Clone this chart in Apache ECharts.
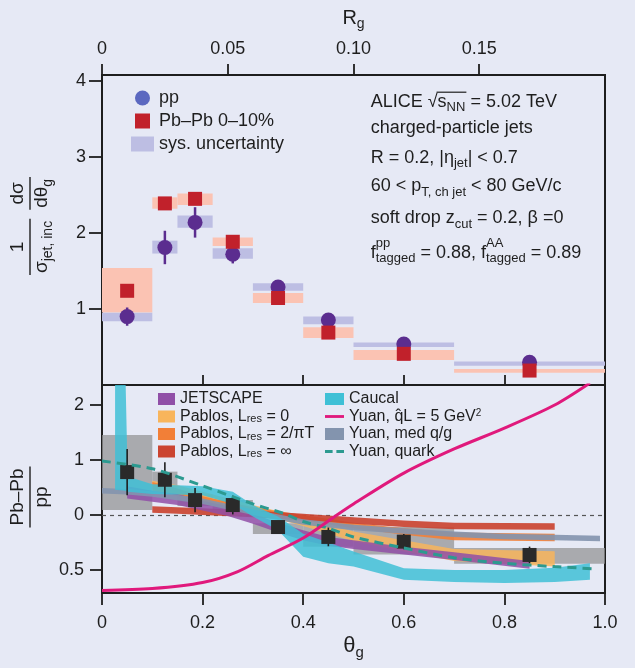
<!DOCTYPE html>
<html>
<head>
<meta charset="utf-8">
<script src="https://cdn.jsdelivr.net/npm/echarts@6.0.0/dist/echarts.min.js"></script>
<style>
html,body{margin:0;padding:0;background:#e6e9f5;}
#c{width:635px;height:668px;}
</style>
</head>
<body>
<div id="c"></div>
<script>
// ---------------- data ----------------
const binLo     = [0.00, 0.10, 0.15, 0.22, 0.30, 0.40, 0.50, 0.70];
const binHi     = [0.10, 0.15, 0.22, 0.30, 0.40, 0.50, 0.70, 1.00];
const binCenter = [0.05, 0.125, 0.185, 0.26, 0.35, 0.45, 0.60, 0.85];

const ppValue = [0.90, 1.81, 2.14, 1.72, 1.29, 0.855, 0.54, 0.30];
const ppStat  = [0.12, 0.22, 0.20, 0.12, 0.045, 0.035, 0.025, 0.02];
const ppSysLo = [0.84, 1.73, 2.07, 1.66, 1.24, 0.80, 0.50, 0.255];
const ppSysHi = [0.95, 1.90, 2.23, 1.80, 1.34, 0.90, 0.56, 0.31];

const pbValue = [1.24, 2.39, 2.45, 1.885, 1.145, 0.69, 0.41, 0.19];
const pbSysLo = [0.955, 2.32, 2.37, 1.83, 1.08, 0.62, 0.33, 0.16];
const pbSysHi = [1.54, 2.47, 2.52, 1.94, 1.21, 0.76, 0.46, 0.21];

const ratioValue = [1.39, 1.32, 1.135, 1.09, 0.89, 0.80, 0.757, 0.636];
const ratioStat  = [0.21, 0.16, 0.11, 0.085, 0.04, 0.085, 0.07, 0.076];
const ratioSysLo = [1.045, 1.243, 1.082, 1.04, 0.827, 0.71, 0.64, 0.555];
const ratioSysHi = [1.727, 1.394, 1.188, 1.136, 0.925, 0.93, 0.89, 0.70];

const jetscapeX  = [0.05, 0.10, 0.15, 0.20, 0.25, 0.30, 0.35, 0.40, 0.45, 0.50, 0.60, 0.70, 0.85];
const jetscapeLo = [1.15, 1.12, 1.09, 1.04, 0.99, 0.92, 0.84, 0.77, 0.72, 0.69, 0.64, 0.59, 0.51];
const jetscapeHi = [1.26, 1.22, 1.19, 1.13, 1.08, 1.01, 0.93, 0.86, 0.80, 0.77, 0.71, 0.66, 0.58];

const pablosX     = [0.10, 0.15, 0.20, 0.30, 0.40, 0.50, 0.60, 0.70, 0.90];
const pablos0Lo   = [1.23, 1.19, 1.13, 1.02, 0.90, 0.76, 0.67, 0.58, 0.53];
const pablos0Hi   = [1.31, 1.27, 1.21, 1.09, 0.98, 0.85, 0.77, 0.69, 0.67];
const pablos2Lo   = [1.22, 1.17, 1.10, 1.01, 0.95, 0.88, 0.82, 0.77, 0.76];
const pablos2Hi   = [1.30, 1.24, 1.17, 1.07, 1.00, 0.93, 0.88, 0.84, 0.83];
const pablosInfLo = [1.02, 1.01, 1.00, 0.98, 0.95, 0.92, 0.89, 0.87, 0.865];
const pablosInfHi = [1.08, 1.07, 1.06, 1.04, 1.01, 0.98, 0.95, 0.93, 0.925];

const caucalX  = [0.026, 0.046, 0.051, 0.10, 0.20, 0.26, 0.30, 0.35, 0.40, 0.45, 0.50, 0.60, 0.70, 0.80, 0.90, 0.97];
const caucalLo = [1.23, 1.22, 1.21, 1.19, 1.18, 1.10, 0.985, 0.86, 0.62, 0.56, 0.53, 0.41, 0.39, 0.38, 0.39, 0.41];
const caucalHi = [3.00, 2.40, 1.35, 1.28, 1.26, 1.21, 1.09, 0.985, 0.83, 0.75, 0.667, 0.515, 0.50, 0.50, 0.52, 0.56];

const yuanMedX  = [0.00, 0.05, 0.10, 0.20, 0.30, 0.40, 0.50, 0.60, 0.70, 0.80, 0.90, 0.99];
const yuanMedLo = [1.195, 1.185, 1.165, 1.10, 1.00, 0.91, 0.86, 0.83, 0.80, 0.78, 0.77, 0.76];
const yuanMedHi = [1.245, 1.235, 1.215, 1.15, 1.05, 0.96, 0.91, 0.88, 0.85, 0.83, 0.82, 0.81];

const yuanQuarkX = [0.00, 0.10, 0.20, 0.30, 0.36, 0.40, 0.45, 0.50, 0.60, 0.70, 0.80, 0.90, 0.98];
const yuanQuarkY = [1.49, 1.42, 1.265, 1.10, 1.015, 0.94, 0.88, 0.80, 0.70, 0.61, 0.56, 0.53, 0.51];

const yuanQhatX = [0.00, 0.10, 0.20, 0.27, 0.33, 0.40, 0.467, 0.50, 0.60, 0.70, 0.80, 0.90, 0.97];
const yuanQhatY = [0.312, 0.33, 0.385, 0.485, 0.63, 0.79, 1.00, 1.10, 1.38, 1.60, 1.79, 2.00, 2.20];

// tick labels
const rgTicks = [0, 0.05, 0.10, 0.15];
const rgTickLabels = ['0', '0.05', '0.10', '0.15'];
const thetaTicks = [0, 0.2, 0.4, 0.6, 0.8, 1.0];
const thetaTickLabels = ['0', '0.2', '0.4', '0.6', '0.8', '1.0'];
const thetaTopTicks = [0.2, 0.4, 0.6, 0.8];
const xsecTicks = [1, 2, 3, 4];
const xsecTickLabels = ['1', '2', '3', '4'];
const ratioTicks = [2, 1.5, 1, 0.5];
const ratioTickLabels = ['2', '1', '0', '0.5'];

// ---------------- style ----------------
const FONT = '"Liberation Sans", Arial, Helvetica, sans-serif';
const INK = '#1e1e1e';
const BG = '#e6e9f5';

function labeler(ticks, labels) {
  return function (v) {
    for (let i = 0; i < ticks.length; i++) if (Math.abs(ticks[i] - v) < 1e-6) return labels[i];
    return '';
  };
}

const ctx2d = document.createElement('canvas').getContext('2d');
function tw(t, fs) { ctx2d.font = fs + 'px ' + FONT; return ctx2d.measureText(t).width; }
function txt(x, y, t, fs) {
  return { type: 'text', x: x, y: y, silent: true,
    style: { text: t, fontSize: fs, fontFamily: FONT, fill: INK,
      align: 'left', verticalAlign: 'middle', textAlign: 'left', textVerticalAlign: 'middle' } };
}
function run(x0, y, segs) {
  const out = []; const marks = []; let x = x0;
  segs.forEach(function (s) {
    marks.push(x);
    if (s.sup !== undefined) {
      out.push(txt(x, y + s.supDy, s.sup, s.fs));
      out.push(txt(x, y + s.subDy, s.sub, s.fs));
      x += Math.max(tw(s.sup, s.fs), tw(s.sub, s.fs));
    } else {
      out.push(txt(x, y + (s.dy || 0), s.t, s.fs));
      x += tw(s.t, s.fs);
    }
  });
  marks.push(x);
  return { els: out, width: x - x0, marks: marks };
}
function runW(segs) { return run(0, 0, segs).width; }
function centered(cx, y, segs) { return run(cx - runW(segs) / 2, y, segs).els; }

// ---------------- graphic texts ----------------
const M = 18, S = 13, SD = 6;
const annX = 370.7;
const annLines = [
  { y: 101.7, segs: [{ t: 'ALICE √', fs: M }, { t: 's', fs: M }, { t: 'NN', fs: S, dy: SD }, { t: ' = 5.02 TeV', fs: M }] },
  { y: 128.3, segs: [{ t: 'charged-particle jets', fs: M }] },
  { y: 157.7, segs: [{ t: 'R = 0.2, |η', fs: M }, { t: 'jet', fs: S, dy: SD }, { t: '| < 0.7', fs: M }] },
  { y: 186.0, segs: [{ t: '60 < p', fs: M }, { t: 'T, ch jet', fs: S, dy: SD }, { t: ' < 80 GeV/c', fs: M }] },
  { y: 218.3, segs: [{ t: 'soft drop z', fs: M }, { t: 'cut', fs: S, dy: SD }, { t: ' = 0.2, β =0', fs: M }] },
  { y: 252.7, segs: [{ t: 'f', fs: M }, { sup: 'pp', sub: 'tagged', fs: S, supDy: -9, subDy: 6 },
    { t: ' = 0.88, f', fs: M }, { sup: 'AA', sub: 'tagged', fs: S, supDy: -9, subDy: 6 }, { t: ' = 0.89', fs: M }] }
];
const graphicEls = [];
annLines.forEach(function (ln, k) {
  const r = run(annX, ln.y, ln.segs);
  r.els.forEach(function (e) { graphicEls.push(e); });
  if (k === 0) {
    graphicEls.push({ type: 'line', silent: true,
      shape: { x1: r.marks[1] - 1, y1: ln.y - 9.5, x2: r.marks[3] + 1, y2: ln.y - 9.5 },
      style: { stroke: INK, lineWidth: 1.2 } });
  }
});
// axis titles
centered(353.5, 18, [{ t: 'R', fs: 20 }, { t: 'g', fs: 14, dy: 6 }]).forEach(e => graphicEls.push(e));
centered(353.5, 646, [{ t: 'θ', fs: 22 }, { t: 'g', fs: 15, dy: 7 }]).forEach(e => graphicEls.push(e));

function fractionGroup(cx, cy, fracs) {
  const gap = 9;
  const widths = fracs.map(f => Math.max(runW(f.num), runW(f.den)) + 4);
  const total = widths.reduce((a, b) => a + b, 0) + gap * (fracs.length - 1);
  let x = -total / 2;
  const children = [];
  fracs.forEach(function (f, i) {
    const c = x + widths[i] / 2;
    run(c - runW(f.num) / 2, -12, f.num).els.forEach(e => children.push(e));
    run(c - runW(f.den) / 2, 12, f.den).els.forEach(e => children.push(e));
    children.push({ type: 'line', silent: true, shape: { x1: x, y1: 0, x2: x + widths[i], y2: 0 },
      style: { stroke: INK, lineWidth: 1.4 } });
    x += widths[i] + gap;
  });
  return { type: 'group', x: cx, y: cy, rotation: Math.PI / 2, children: children };
}
graphicEls.push(fractionGroup(30, 226, [
  { num: [{ t: '1', fs: 19 }], den: [{ t: 'σ', fs: 19 }, { t: 'jet, inc', fs: 14, dy: 6 }] },
  { num: [{ t: 'dσ', fs: 19 }], den: [{ t: 'dθ', fs: 19 }, { t: 'g', fs: 14, dy: 6 }] }
]));
graphicEls.push(fractionGroup(30, 497, [
  { num: [{ t: 'Pb–Pb', fs: 19 }], den: [{ t: 'pp', fs: 19 }] }
]));

// ---------------- series helpers ----------------
function boxSeries(name, lo, hi, ylo, yhi, color, xi, yi, extra) {
  return Object.assign({
    name: name, type: 'custom', xAxisIndex: xi, yAxisIndex: yi, silent: true, clip: true,
    itemStyle: { color: color },
    data: lo.map((v, i) => [v, hi[i], ylo[i], yhi[i]]),
    encode: { x: [0, 1], y: [2, 3] },
    renderItem: function (params, api) {
      const a = api.coord([api.value(0), api.value(3)]);
      const b = api.coord([api.value(1), api.value(2)]);
      return { type: 'rect', shape: { x: a[0], y: a[1], width: b[0] - a[0], height: b[1] - a[1] },
        style: { fill: color } };
    }
  }, extra || {});
}
function errSeries(name, xs, vals, errs, color, width, xi, yi) {
  return {
    name: name, type: 'custom', xAxisIndex: xi, yAxisIndex: yi, silent: true,
    data: xs.map((x, i) => [x, vals[i] - errs[i], vals[i] + errs[i]]),
    encode: { x: 0, y: [1, 2] },
    renderItem: function (params, api) {
      const a = api.coord([api.value(0), api.value(1)]);
      const b = api.coord([api.value(0), api.value(2)]);
      return { type: 'line', shape: { x1: a[0], y1: a[1], x2: b[0], y2: b[1] },
        style: { stroke: color, lineWidth: width } };
    }
  };
}
function bandSeries(name, xs, lo, hi, color, opacity) {
  return {
    name: name, type: 'custom', xAxisIndex: 2, yAxisIndex: 1, clip: true, silent: true,
    itemStyle: { color: color },
    data: xs.map((x, i) => [x, lo[i], hi[i]]),
    encode: { x: 0, y: [1, 2] },
    renderItem: function (params, api) {
      if (params.dataIndex !== 0) return null;
      const pts = [];
      for (let i = 0; i < xs.length; i++) pts.push(api.coord([xs[i], hi[i]]));
      for (let i = xs.length - 1; i >= 0; i--) pts.push(api.coord([xs[i], lo[i]]));
      return { type: 'polygon', shape: { points: pts }, style: { fill: color, opacity: opacity } };
    }
  };
}

const N_QHAT = 'Yuan, q\u0302L = 5 GeV2';
const seriesList = [
  // top panel
  boxSeries('Pb–Pb sys', binLo, binHi, pbSysLo, pbSysHi, '#fbc3b3', 0, 0),
  boxSeries('sys. uncertainty', binLo, binHi, ppSysLo, ppSysHi, '#bdbee3', 0, 0),
  errSeries('pp stat', binCenter, ppValue, ppStat, '#5b2d8f', 2.5, 0, 0),
  { name: 'pp', type: 'scatter', xAxisIndex: 0, yAxisIndex: 0, symbol: 'circle', symbolSize: 15,
    itemStyle: { color: '#5b2d8f', opacity: 1 }, data: binCenter.map((x, i) => [x, ppValue[i]]), silent: true },
  { name: 'Pb–Pb 0–10%', type: 'scatter', xAxisIndex: 0, yAxisIndex: 0, symbol: 'rect', symbolSize: 14,
    itemStyle: { color: '#c1212b', opacity: 1 }, data: binCenter.map((x, i) => [x, pbValue[i]]), silent: true },
  // bottom panel
  boxSeries('ratio sys', binLo, binHi, ratioSysLo, ratioSysHi, 'rgba(148,148,150,0.75)', 2, 1, {
    markLine: { silent: true, z: 1, symbol: ['none', 'none'], label: { show: false },
      lineStyle: { color: '#555', type: [4, 4], width: 1.2 }, data: [{ yAxis: 1 }] }
  }),
  bandSeries('Pablos, Lres = 0', pablosX, pablos0Lo, pablos0Hi, '#f8b55c', 0.85),
  bandSeries('Pablos, Lres = 2/πT', pablosX, pablos2Lo, pablos2Hi, '#f27f37', 0.9),
  bandSeries('Pablos, Lres = ∞', pablosX, pablosInfLo, pablosInfHi, '#cb4431', 0.92),
  bandSeries('JETSCAPE', jetscapeX, jetscapeLo, jetscapeHi, '#904fa7', 0.85),
  bandSeries('Yuan, med q/g', yuanMedX, yuanMedLo, yuanMedHi, '#8394ae', 0.9),
  bandSeries('Caucal', caucalX, caucalLo, caucalHi, '#3fc0d6', 0.85),
  { name: 'Yuan, quark', type: 'line', xAxisIndex: 2, yAxisIndex: 1, symbol: 'none', showSymbol: false,
    smooth: 0.3, silent: true, data: yuanQuarkX.map((x, i) => [x, yuanQuarkY[i]]),
    itemStyle: { color: '#2c9a90' }, lineStyle: { color: '#2c9a90', width: 3, type: [9, 6] } },
  { name: N_QHAT, type: 'line', xAxisIndex: 2, yAxisIndex: 1, symbol: 'none', showSymbol: false,
    smooth: 0.3, silent: true, data: yuanQhatX.map((x, i) => [x, yuanQhatY[i]]),
    itemStyle: { color: '#e0197c' }, lineStyle: { color: '#e0197c', width: 3 } },
  errSeries('ratio stat', binCenter, ratioValue, ratioStat, '#1e1e1e', 1.6, 2, 1),
  { name: 'ratio', type: 'scatter', xAxisIndex: 2, yAxisIndex: 1, symbol: 'rect', symbolSize: 14,
    itemStyle: { color: '#2a2a2a', opacity: 1 }, data: binCenter.map((x, i) => [x, ratioValue[i]]), silent: true }
];

// ---------------- axes ----------------
const axisLine = { show: true, lineStyle: { color: INK, width: 2 } };
const tickStyle = { color: INK, width: 1.8 };
const labelStyle = { color: INK, fontSize: 18, fontFamily: FONT };

const legendText = {
  'Pablos, Lres = 0': 'Pablos, L{s|res} = 0',
  'Pablos, Lres = 2/πT': 'Pablos, L{s|res} = 2/πT',
  'Pablos, Lres = ∞': 'Pablos, L{s|res} = ∞'
};
legendText[N_QHAT] = 'Yuan, q\u0302L = 5 GeV{p|2}';

const legendBase = {
  orient: 'vertical', padding: 0, selectedMode: false,
  textStyle: { color: INK, fontFamily: FONT, fontSize: 16, lineHeight: 16,
    rich: { s: { fontSize: 11, lineHeight: 6, verticalAlign: 'bottom', fontFamily: FONT, color: INK },
            p: { fontSize: 10, lineHeight: 6, verticalAlign: 'top', fontFamily: FONT, color: INK } } },
  formatter: function (n) { return legendText[n] || n; }
};

const option = {
  backgroundColor: BG,
  animation: false,
  grid: [
    { left: 102, top: 75, width: 503, height: 310, show: true, borderColor: INK, borderWidth: 2,
      backgroundColor: 'transparent', containLabel: false, outerBoundsMode: 'none' },
    { left: 102, top: 385, width: 503, height: 208, show: true, borderColor: INK, borderWidth: 2,
      backgroundColor: 'transparent', containLabel: false, outerBoundsMode: 'none' }
  ],
  xAxis: [
    { gridIndex: 0, type: 'value', min: 0, max: 1, show: false },
    { gridIndex: 0, type: 'value', position: 'top', min: 0, max: 0.2, interval: 0.05,
      axisLine: axisLine, splitLine: { show: false },
      axisTick: { show: true, inside: false, length: 11, lineStyle: tickStyle, customValues: rgTicks },
      axisLabel: Object.assign({ margin: 17, customValues: rgTicks, formatter: labeler(rgTicks, rgTickLabels) }, labelStyle) },
    { gridIndex: 1, type: 'value', position: 'bottom', min: 0, max: 1, interval: 0.2,
      axisLine: axisLine, splitLine: { show: false },
      axisTick: { show: true, inside: false, length: 12, lineStyle: tickStyle, customValues: thetaTicks },
      axisLabel: Object.assign({ margin: 21, customValues: thetaTicks, formatter: labeler(thetaTicks, thetaTickLabels) }, labelStyle) },
    { gridIndex: 1, type: 'value', position: 'top', min: 0, max: 1, interval: 0.2,
      axisLine: axisLine, splitLine: { show: false },
      axisTick: { show: true, inside: false, length: 10, lineStyle: tickStyle, customValues: thetaTopTicks },
      axisLabel: { show: false } }
  ],
  yAxis: [
    { gridIndex: 0, type: 'value', min: 0, max: 4.08, interval: 1,
      axisLine: axisLine, splitLine: { show: false },
      axisTick: { show: true, inside: false, length: 13, lineStyle: tickStyle, customValues: xsecTicks },
      axisLabel: Object.assign({ margin: 16, customValues: xsecTicks, formatter: labeler(xsecTicks, xsecTickLabels) }, labelStyle) },
    { gridIndex: 1, type: 'value', min: 0.29, max: 2.182,
      axisLine: axisLine, splitLine: { show: false },
      axisTick: { show: true, inside: false, length: 12, lineStyle: tickStyle, customValues: ratioTicks },
      axisLabel: Object.assign({ margin: 18, customValues: ratioTicks, formatter: labeler(ratioTicks, ratioTickLabels) }, labelStyle) }
  ],
  legend: [
    Object.assign({}, legendBase, {
      left: 131, top: 88, itemWidth: 23, itemHeight: 15, itemGap: 3,
      textStyle: { color: INK, fontFamily: FONT, fontSize: 18, lineHeight: 20 },
      formatter: null,
      data: [
        { name: 'pp', icon: 'circle', itemStyle: { color: '#5b68c0' } },
        { name: 'Pb–Pb 0–10%', icon: 'path://M0,0H10V10H0Z', itemStyle: { color: '#c1212b' } },
        { name: 'sys. uncertainty', icon: 'rect' }
      ]
    }),
    Object.assign({}, legendBase, {
      left: 158, top: 391, itemWidth: 17, itemHeight: 12, itemGap: 1.5,
      data: [
        { name: 'JETSCAPE', icon: 'rect' },
        { name: 'Pablos, Lres = 0', icon: 'rect' },
        { name: 'Pablos, Lres = 2/πT', icon: 'rect' },
        { name: 'Pablos, Lres = ∞', icon: 'rect' }
      ]
    }),
    Object.assign({}, legendBase, {
      left: 325, top: 391, itemWidth: 19, itemHeight: 12, itemGap: 1.5,
      data: [
        { name: 'Caucal', icon: 'rect' },
        { name: N_QHAT, icon: 'path://M0,0H20V3H0Z', itemStyle: { color: '#e0197c', borderWidth: 0 } },
        { name: 'Yuan, med q/g', icon: 'rect' },
        { name: 'Yuan, quark', icon: 'path://M0,0H8V3H0Z M12,0H20V3H12Z', itemStyle: { color: '#2c9a90', borderWidth: 0 } }
      ]
    })
  ],
  graphic: { elements: graphicEls },
  series: seriesList
};

const chart = echarts.init(document.getElementById('c'), null, { renderer: 'canvas' });
chart.setOption(option);
</script>
</body>
</html>
